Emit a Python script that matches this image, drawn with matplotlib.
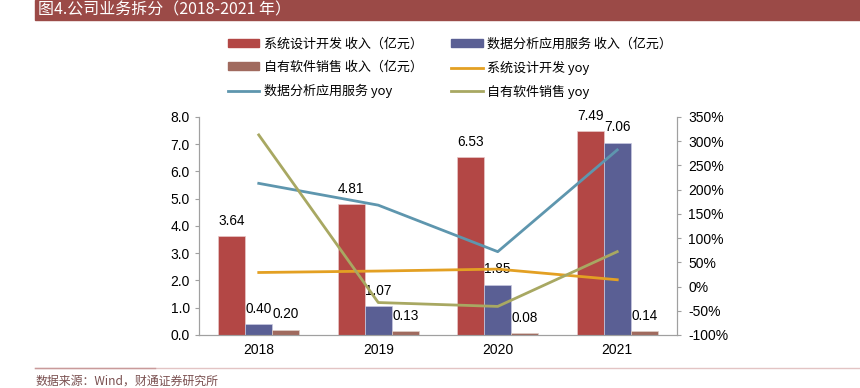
import numpy as np
import matplotlib.pyplot as plt
from matplotlib.patches import Rectangle
from matplotlib.lines import Line2D

plt.rcParams['font.family'] = ['Noto Sans CJK SC', 'DejaVu Sans']

years = ['2018', '2019', '2020', '2021']
sys_rev = [3.64, 4.81, 6.53, 7.49]
data_rev = [0.40, 1.07, 1.85, 7.06]
soft_rev = [0.20, 0.13, 0.08, 0.14]
sys_yoy = [29, 32, 36, 14]
data_yoy = [213, 168, 72, 282]
soft_yoy = [313, -33, -41, 72]

c_red = '#B34745'
c_blue = '#5A5F94'
c_brown = '#A06A5E'
c_orange = '#E3A023'
c_teal = '#5E96AE'
c_olive = '#A8A862'

fig = plt.figure(figsize=(8.6, 3.88), dpi=100)
ax = fig.add_axes([0.2314, 0.1366, 0.5558, 0.5619])
ax2 = ax.twinx()

x = np.arange(len(years))
w = 0.227
b1 = ax.bar(x - w, sys_rev, w, color=c_red, edgecolor='#E8C8C8', linewidth=0.5)
b2 = ax.bar(x, data_rev, w, color=c_blue, edgecolor='#C8C8E0', linewidth=0.5)
b3 = ax.bar(x + w, soft_rev, w, color=c_brown, edgecolor='#E0D0C8', linewidth=0.5)
for bars in (b1, b2, b3):
    for r in bars:
        ax.text(r.get_x() + r.get_width() / 2, r.get_height() + 0.3,
                f'{r.get_height():.2f}', ha='center', va='bottom', fontsize=9.8,
                family='Liberation Sans')

ax2.plot(x, sys_yoy, color=c_orange, lw=2)
ax2.plot(x, data_yoy, color=c_teal, lw=2)
ax2.plot(x, soft_yoy, color=c_olive, lw=2)

ax.set_xlim(-0.5, 3.5)
ax.set_ylim(0, 8)
ax.set_yticks(np.arange(0, 8.1, 1))
ax.set_yticklabels([f'{v:.1f}' for v in np.arange(0, 8.1, 1)], family='Liberation Sans')
ax2.set_ylim(-100, 350)
ax2.set_yticks(range(-100, 351, 50))
ax2.set_yticklabels([f'{v}%' for v in range(-100, 351, 50)], family='Liberation Sans')
ax.set_xticks(x)
ax.set_xticklabels(years, family='Liberation Sans')

for a in (ax, ax2):
    for s in a.spines.values():
        s.set_color('#A0A0A0')
    a.spines['top'].set_visible(False)
    a.tick_params(labelsize=10, colors='#A0A0A0', labelcolor='black', length=3)
ax.tick_params(axis='x', length=0, pad=6)
ax2.tick_params(axis='y', pad=5)

handles = [
    Rectangle((0, 0), 1, 1, color=c_red),
    Rectangle((0, 0), 1, 1, color=c_brown),
    Line2D([], [], color=c_teal, lw=2),
    Rectangle((0, 0), 1, 1, color=c_blue),
    Line2D([], [], color=c_orange, lw=2),
    Line2D([], [], color=c_olive, lw=2),
]
labels = ['系统设计开发 收入（亿元）', '自有软件销售 收入（亿元）', '数据分析应用服务 yoy',
          '数据分析应用服务 收入（亿元）', '系统设计开发 yoy', '自有软件销售 yoy']
fig.legend(handles, labels, ncol=2, loc='upper left', bbox_to_anchor=(0.265, 0.902),
           frameon=False, fontsize=9.4, handlelength=2.4, handleheight=0.55,
           columnspacing=2.2, labelspacing=0.75, handletextpad=0.35,
           borderaxespad=0, borderpad=0)

fig.patches.append(Rectangle((35 / 860, 1 - 20 / 388), 1 - 35 / 860, 20 / 388,
                             transform=fig.transFigure, color='#9B4A47'))
fig.text(38 / 860, 1 - 10 / 388, '图4.公司业务拆分（2018-2021 年）', color='white',
         fontsize=11.5, va='center', ha='left')
fig.add_artist(Line2D([35 / 860, 1], [1 - 368 / 388] * 2, color='#E3C4C4', lw=1,
                      transform=fig.transFigure))
fig.add_artist(Line2D([35 / 860, 155 / 860], [1 - 368 / 388] * 2, color='#C99A9A', lw=1,
                      transform=fig.transFigure))
fig.text(36 / 860, 1 - 381 / 388, '数据来源：Wind，财通证券研究所', color='#7A5050',
         fontsize=8.6, va='center', ha='left')

fig.savefig('out.png', dpi=100)
